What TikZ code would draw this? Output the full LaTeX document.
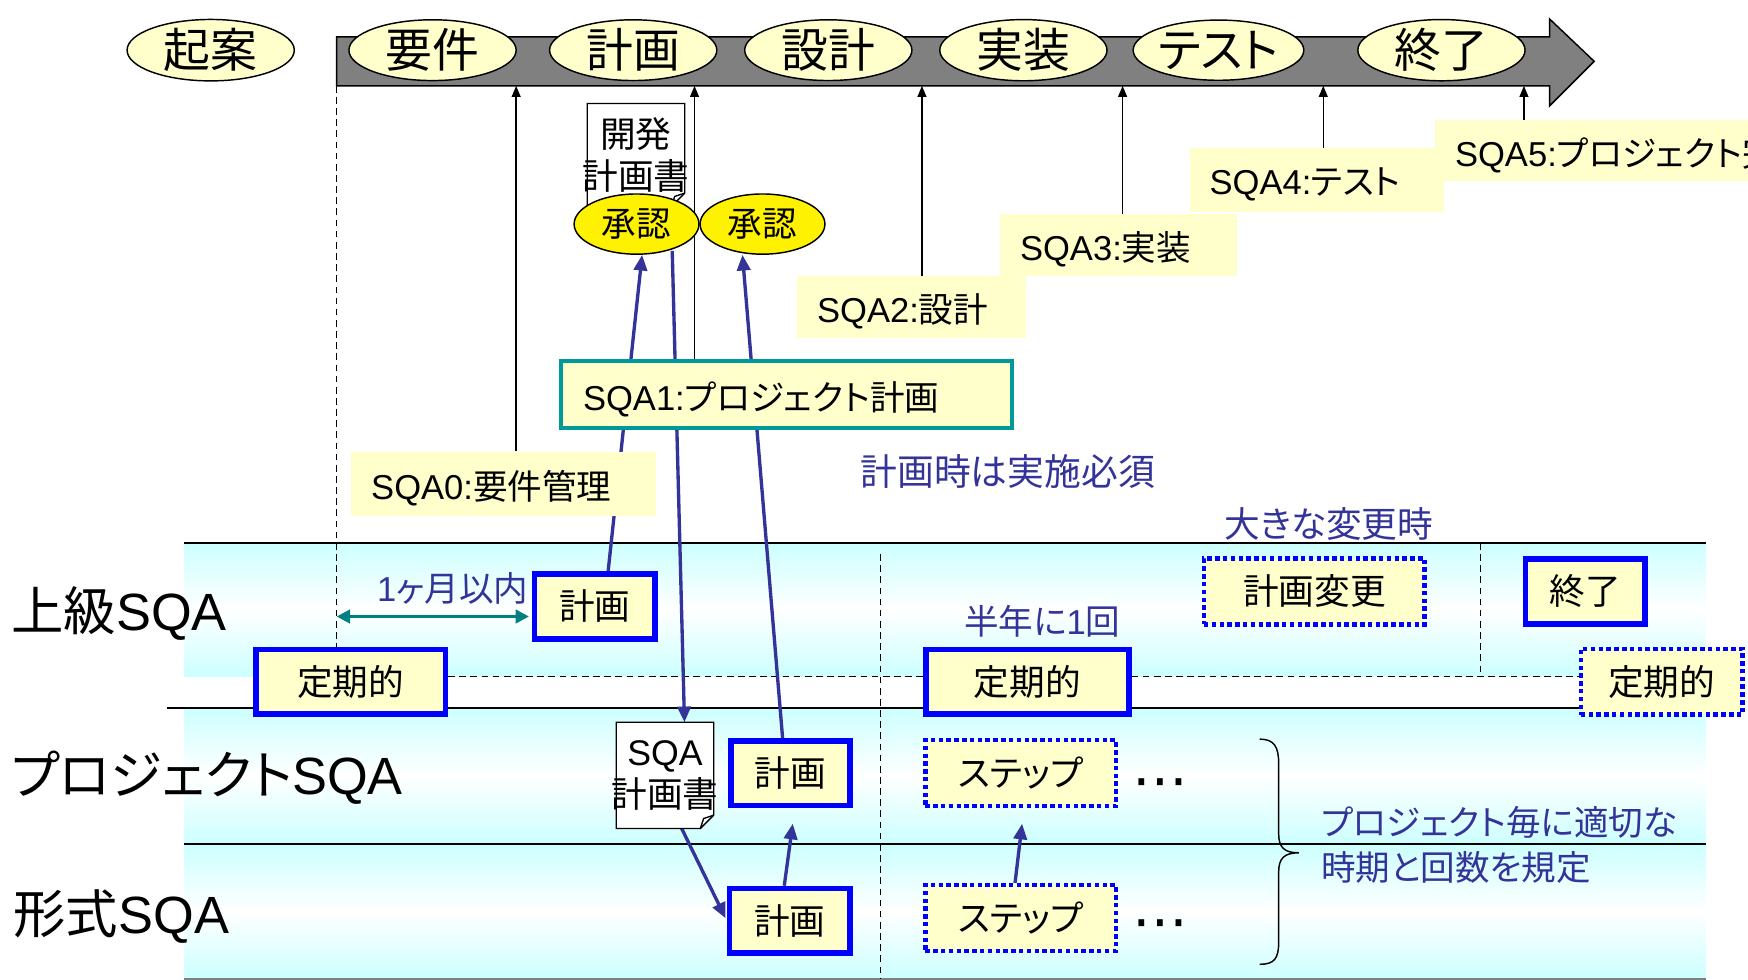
\documentclass[tikz,border=0pt]{standalone}
\usepackage{fontspec}
\setmainfont{Noto Sans CJK JP}[RawFeature={+palt}]
\newfontfamily\la{Liberation Sans}
\newfontfamily\dv{DejaVu Sans}
\usetikzlibrary{shapes.geometric,arrows.meta}
\definecolor{lyel}{HTML}{FFFFCC}
\definecolor{myblue}{HTML}{0000FF}
\definecolor{noteblue}{HTML}{333399}
\definecolor{tealc}{HTML}{008080}
\definecolor{tealb}{HTML}{009999}
\definecolor{bandc}{HTML}{CCFFFF}
\definecolor{bandgray}{HTML}{808080}
\newcommand\fz[1]{\fontsize{#1}{#1}\selectfont}
\newcommand\lowr[1]{\raisebox{-4pt}[\height][\depth]{#1}}
\pgfdeclarelayer{back}
\pgfdeclarelayer{mid}
\pgfsetlayers{back,mid,main}
\tikzset{
  phase/.style={ellipse, draw=black, line width=1.3pt, fill=lyel, minimum width=150pt, minimum height=54pt, inner sep=0pt, font=\fz{42}},
  approve/.style={ellipse, draw=black, line width=1.3pt, fill=yellow, minimum width=112pt, minimum height=54pt, inner sep=0pt, font=\fz{31}},
  sqalab/.style={fill=lyel, inner xsep=18pt, inner ysep=0pt, align=left, font=\fz{31}},
  solidbox/.style={draw=myblue, line width=5pt, fill=lyel, inner sep=0pt, minimum height=58pt, font=\fz{32}},
  dotbox/.style={draw=myblue, line width=4pt, dash pattern=on 4pt off 3pt, fill=lyel, inner sep=0pt, minimum height=59pt, font=\fz{32}},
  lanelab/.style={anchor=west, inner sep=0pt, font=\fz{47}},
  note/.style={text=noteblue, inner sep=0pt, font=\fz{31}},
  docbox/.style={inner sep=0pt},
  doctext/.style={inner sep=0pt, align=center, font=\fontsize{32}{38}\selectfont},
  upline/.style={line width=1.3pt, -{Triangle[length=10pt,width=8pt]}},
  barrow/.style={draw=noteblue, line width=3pt, -{Triangle[length=14pt,width=12pt]}},
  darrow/.style={draw=tealc, line width=3pt, {Triangle[length=12pt,width=12pt]}-{Triangle[length=12pt,width=12pt]}},
  dsh/.style={line width=1.3pt, dash pattern=on 6pt off 4pt},
  laneline/.style={line width=1.5pt},
  dotsnode/.style={inner sep=0pt, font=\dv\fz{50}},
  bandfill/.style={top color=bandc, bottom color=bandc, middle color=white},
}
\begin{document}
\begin{tikzpicture}[x=1pt,y=-1pt]
\useasboundingbox (0,0) rectangle (1568,879);
\clip (0,0) rectangle (1568,879);
% lanes
\begin{pgfonlayer}{back}
  \shade[bandfill] (165,487) rectangle (1530,607);
  \shade[bandfill] (165,635) rectangle (1530,757);
  \shade[bandfill] (165,757) rectangle (1530,878);
  \draw[laneline] (165,487) -- (1530,487);
  \draw[laneline] (150,635) -- (1530,635);
  \draw[laneline] (165,757) -- (1530,757);
  \draw[laneline, draw=gray] (165,878) -- (1530,878);
\end{pgfonlayer}
% time line band
\draw[line width=1.3pt, fill=bandgray] (302,33) -- (1390,33) -- (1390,17) -- (1430,55) -- (1390,95) -- (1390,77) -- (302,77) -- cycle;
\node[phase] (kian) at (189,45) {起案};
\node[phase] (yoken) at (388,45) {要件};
\node[phase] (keikaku) at (568,45) {計画};
\node[phase] (sekkei) at (743,45) {設計};
\node[phase] (jisso) at (918,45) {実装};
\node[phase] (tesuto) at (1093,45) {テスト};
\node[phase] (shuryo) at (1293,45) {終了};
\coordinate (p0) at (302,77);
\coordinate (p1) at (463,77);
\coordinate (p2) at (623,77);
\coordinate (p3) at (827,77);
\coordinate (p4) at (1007,77);
\coordinate (p5) at (1187,77);
\coordinate (p6) at (1367,77);
% SQA labels
\node[sqalab, text width=237pt, minimum height=58pt] (sqa0) at (451.5,434) {\lowr{{\la SQA0:}要件管理}};
\node[sqalab, draw=tealb, line width=4pt, text width=365pt, inner xsep=20pt, minimum height=60pt] (sqa1) at (705.5,354) {\lowr{{\la SQA1:}プロジェクト計画}};
\node[sqalab, text width=169pt, minimum height=55pt] (sqa2) at (817.5,275.5) {\lowr{{\la SQA2:}設計}};
\node[sqalab, text width=177pt, minimum height=56pt] (sqa3) at (1003.5,220) {\lowr{{\la SQA3:}実装}};
\node[sqalab, text width=192pt, minimum height=57pt] (sqa4) at (1181,161.5) {\lowr{{\la SQA4:}テスト}};
\node[sqalab, text width=340pt, minimum height=54pt, anchor=west] (sqa5) at (1287,135) {\lowr{{\la SQA5:}プロジェクト完了}};
% development plan document
\node[docbox, minimum width=87pt, minimum height=92pt] (kdoc) at (570.5,139) {};
\draw[line width=1.2pt, fill=white] (kdoc.north west) -- (kdoc.north east) -- ([yshift=12pt]kdoc.south east) -- ([xshift=-12pt]kdoc.south east) -- (kdoc.south west) -- cycle;
\draw[line width=1.2pt] ([yshift=12pt]kdoc.south east) -- ([xshift=-9pt,yshift=9pt]kdoc.south east) -- ([xshift=-12pt]kdoc.south east);
\node[doctext] (kdoctxt) at (kdoc) {開発\\計画書};
\node[approve] (shonin1) at (571,201) {承認};
\node[approve] (shonin2) at (684,201) {承認};
% lane labels
\node[lanelab] (lane1) at (10,550) {上級{\la SQA}};
\node[lanelab] (lane2) at (10,698) {プロジェクト{\la SQA}};
\node[lanelab] (lane3) at (12,822) {形式{\la SQA}};
% boxes
\node[solidbox, minimum width=170pt] (upteiki) at (314.5,611.5) {定期的};
\node[solidbox, minimum width=108pt] (upkei) at (533.5,544) {計画};
\node[solidbox, minimum width=107pt] (prjkei) at (709,693.5) {計画};
\node[solidbox, minimum width=108pt] (keikei) at (708.5,826) {計画};
\node[solidbox, minimum width=182pt] (midteiki) at (921.5,611.5) {定期的};
\node[solidbox, minimum width=107pt] (endbox) at (1422,530.5) {終了};
\node[dotbox, minimum width=198pt] (henko) at (1179,530.5) {計画変更};
\node[dotbox, minimum width=145pt] (rteiki) at (1490.5,611.5) {定期的};
\node[dotbox, minimum width=171pt] (stepP) at (915.5,693.5) {ステップ};
\node[dotbox, minimum width=171pt] (stepF) at (915.5,823.5) {ステップ};
% SQA plan document
\node[docbox, minimum width=87pt, minimum height=95pt] (sqadoc) at (596.5,695.5) {};
\draw[line width=1.2pt, fill=white] (sqadoc.north west) -- (sqadoc.north east) -- ([yshift=12pt]sqadoc.south east) -- ([xshift=-12pt]sqadoc.south east) -- (sqadoc.south west) -- cycle;
\draw[line width=1.2pt] ([yshift=12pt]sqadoc.south east) -- ([xshift=-9pt,yshift=9pt]sqadoc.south east) -- ([xshift=-12pt]sqadoc.south east);
\node[doctext] (sqadoctxt) at (sqadoc) {{\la SQA}\\計画書};
% dots
\node[dotsnode] (dots1) at (1041,708) {⋯};
\node[dotsnode] (dots2) at (1041,834) {⋯};
% notes
\node[note, font=\fz{33}] (n1) at (904,423) {計画時は実施必須};
\node[note, font=\fz{32}] (n2) at (1192,470) {大きな変更時};
\node[note] (n3) at (935,557) {半年に{\la 1}回};
\node[note] (n4) at (406,528) {{\la 1}ヶ月以内};
\node[note, anchor=west, align=left, font=\fontsize{31}{40}\selectfont] (n5) at (1185,758) {プロジェクト毎に適切な\\時期と回数を規定};
% brace
\draw[line width=1.3pt] (1130,663) .. controls (1143,663) and (1147,670) .. (1147,685) -- (1147,748) .. controls (1147,760) and (1152,765) .. (1165,765) .. controls (1152,765) and (1147,770) .. (1147,782) -- (1147,845) .. controls (1147,860) and (1143,865) .. (1130,865);
% connectors behind boxes
\begin{pgfonlayer}{mid}
  \draw[upline] (p1 |- sqa0.north) -- (p1);
  \draw[upline] (p2 |- sqa1.north) -- (p2);
  \draw[upline] (p3 |- sqa2.north) -- (p3);
  \draw[upline] (p4 |- sqa3.north) -- (p4);
  \draw[upline] (p5 |- sqa4.south) -- (p5);
  \draw[upline] (p6 |- sqa5.north) -- (p6);
  \draw[dsh] (p0) -- (p0 |- upteiki.north);
  \coordinate (v1a) at (790,497);
  \coordinate (v1b) at (790,878);
  \draw[dsh] (v1a) -- (v1b);
  \coordinate (v2a) at (1328,487);
  \coordinate (v2b) at (1328,607);
  \draw[dsh] (v2a) -- (v2b);
  \draw[dsh] ([yshift=4.5pt]upteiki.east) -- ([yshift=4.5pt]midteiki.west);
  \draw[dsh] ([yshift=4.5pt]midteiki.east) -- ([yshift=4.5pt]rteiki.west);
  \draw[barrow] ([xshift=12pt]upkei.north) -- ([xshift=5pt]shonin1.south);
  \draw[barrow] ([xshift=32pt,yshift=-24pt]shonin1.center) -- ([xshift=17.5pt]sqadoc.north);
  \draw[barrow] ([xshift=-7pt]prjkei.north) -- ([xshift=-18pt]shonin2.south);
  \draw[barrow, shorten >=2.5pt] ([xshift=15pt]sqadoc.south) -- (keikei.west);
  \draw[barrow, shorten >=14pt] ([xshift=-5pt]keikei.north) -- ([xshift=4pt]prjkei.south);
  \draw[barrow, shorten >=14pt] ([xshift=-5pt]stepF.north) -- ([xshift=3pt]stepP.south);
  \coordinate (ta) at (302,553);
  \draw[darrow, shorten >=2.5pt] (ta) -- ([yshift=-9pt]upkei.west);
\end{pgfonlayer}
\end{tikzpicture}
\end{document}
